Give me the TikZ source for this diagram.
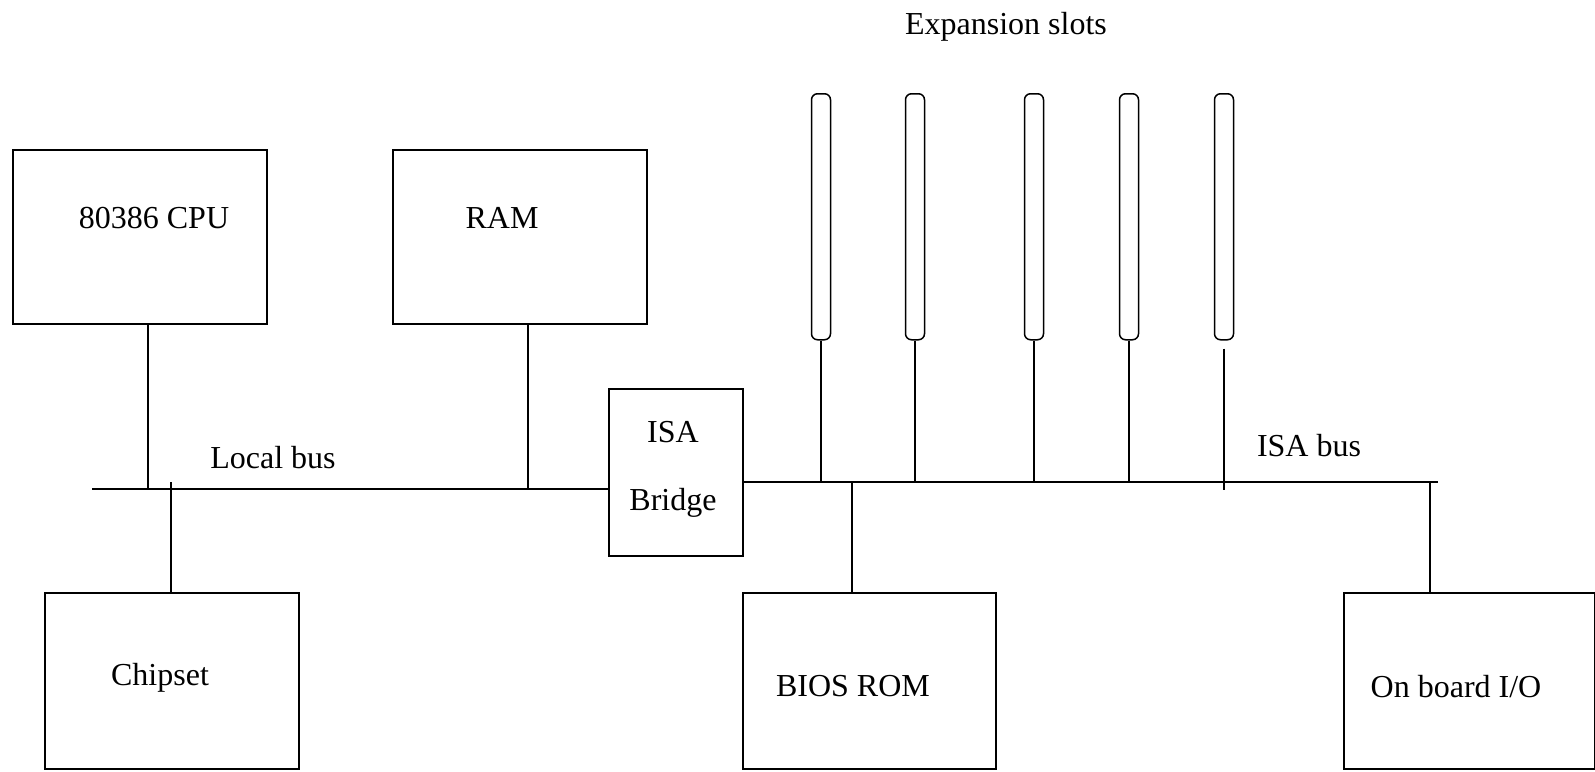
\documentclass[tikz,border=0pt]{standalone}
\usepackage{fontspec}
\setmainfont{Liberation Serif}
\begin{document}
\begin{tikzpicture}[x=1pt,y=-1pt,
  line width=1.8pt,
  box/.style={draw, rectangle, inner sep=0pt, anchor=north west},
  lbl/.style={font=\fontsize{32}{37}\selectfont, inner sep=0pt},
  slot/.style={draw, rectangle, rounded corners=6pt, inner sep=0pt, anchor=north,
    minimum width=19pt, minimum height=246pt, line width=1.5pt}]
\useasboundingbox (0,0) rectangle (1595,771);
% boxes
\node[box, minimum width=254pt, minimum height=174pt] (cpu) at (12,149) {};
\node[box, minimum width=254pt, minimum height=174pt] (ram) at (392,149) {};
\node[box, minimum width=134pt, minimum height=167pt] (isa) at (608,388) {};
\node[box, minimum width=254pt, minimum height=176pt] (chip) at (44,592) {};
\node[box, minimum width=253pt, minimum height=176pt] (bios) at (742,592) {};
\node[box, minimum width=251pt, minimum height=176pt] (io) at (1343,592) {};
% labels
\node[lbl] (cput) at (154,218) {80386 CPU};
\node[lbl] (ramt) at (502,218) {RAM};
\node[lbl] (isat) at (673,432) {ISA};
\node[lbl] (brt) at (673,503) {Bridge};
\node[lbl] (chipt) at (160,678) {Chipset};
\node[lbl] (biost) at (853,686) {BIOS ROM};
\node[lbl] (iot) at (1456,687) {On board I/O};
\node[lbl] (lbt) at (273,458) {Local bus};
\node[lbl] (ibt) at (1309,446) {ISA bus};
\node[lbl] (ext) at (1006,27) {Expansion slots};
% slots
\node[slot] (s1) at (821,93) {};
\node[slot] (s2) at (915,93) {};
\node[slot] (s3) at (1034,93) {};
\node[slot] (s4) at (1129,93) {};
\node[slot] (s5) at (1224,93) {};
% bus coordinates
\coordinate (lbL) at (92,489);
\coordinate (ibR) at (1438,482);
\coordinate (s5a) at ([yshift=-8pt]s5.south);
\coordinate (s5b) at (1224,490);
% local bus
\draw (lbL) -- (isa.west |- lbL);
\draw (cpu.south -| 148,0) -- (148,489);
\draw (ram.south -| 528,0) -- (528,489);
\draw (171,482) -- (chip.north -| 171,0);
% ISA bus
\draw (isa.east |- ibR) -- (ibR);
\draw (s1.south) -- (s1.south |- ibR);
\draw (s2.south) -- (s2.south |- ibR);
\draw (s3.south) -- (s3.south |- ibR);
\draw (s4.south) -- (s4.south |- ibR);
\draw (s5a) -- (s5b);
\draw (852,482) -- (bios.north -| 852,0);
\draw (1430,482) -- (io.north -| 1430,0);
\end{tikzpicture}
\end{document}
